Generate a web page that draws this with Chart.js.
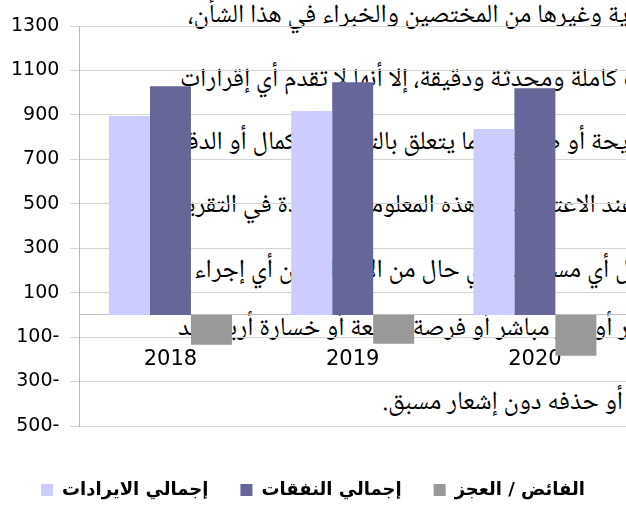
<!DOCTYPE html>
<html>
<head>
<meta charset="utf-8">
<script src="https://cdn.jsdelivr.net/npm/chart.js@4.4.1/dist/chart.umd.min.js"></script>
<style>
    html, body { margin: 0; padding: 0; background: #fff; }
    #wrap { position: relative; width: 626px; height: 505px; overflow: hidden; }
    #note {
        position: absolute; left: 0; top: 0; width: 626px; height: 505px; overflow: hidden;
        font-family: "Noto Naskh Arabic", "Noto Sans Arabic", "DejaVu Sans", serif;
        font-size: 26px; line-height: 1; color: #000;
    }
    #note span { position: absolute; white-space: nowrap; direction: rtl; }
    #chartBox { position: absolute; left: 0; top: 0; width: 626px; height: 505px; }
</style>
</head>
<body>
<div id="wrap">
    <div id="note"></div>
    <div id="chartBox"><canvas id="chart"></canvas></div>
</div>
<script>
// data
const years = ['2018', '2019', '2020'];
const revenue = [895, 917, 836];
const expenses = [1029, 1047, 1020];
const balance = [-134, -130, -184];
const seriesNames = ['إجمالي الايرادات', 'إجمالي النفقات', 'الفائض / العجز'];
const yMin = -500, yMax = 1300, yStep = 200;

// disclaimer text lying behind the chart
const noteLines = [
    'الاقتصادية وغيرها من المختصين والخبراء في هذا الشأن،',
    'بيانات كاملة ومحدثة ودقيقة، إلا أنها لا تقدم أي إقرارات',
    'صريحة أو ضمني فيما يتعلق بالتمام أو الكمال أو الدقة',
    'وعند الاعتماد على هذه المعلومات الواردة في التقرير',
    'ولا تتحمل أي مسؤولية بأي حال من الأحوال عن أي إجراء أو',
    'أو ضرر مباشر أو غير مباشر أو فرصة ضائعة أو خسارة أرباح قد',
    'أو حذفه دون إشعار مسبق.'
];
// [left, top] of each line; null left = flush with the right edge
const noteLayout = [[188, 3], [180, 67], [176, 130], [176, 193], [170, 258], [178, 316], [null, 390]];

const note = document.getElementById('note');
noteLines.forEach((t, i) => {
    const s = document.createElement('span');
    s.textContent = t;
    if (noteLayout[i][0] === null) s.style.right = '3px';
    else s.style.left = noteLayout[i][0] + 'px';
    s.style.top = noteLayout[i][1] + 'px';
    note.appendChild(s);
});

new Chart(document.getElementById('chart'), {
    type: 'bar',
    data: {
        labels: years,
        datasets: [
            { label: seriesNames[0], data: revenue, backgroundColor: '#CCCCFF' },
            { label: seriesNames[1], data: expenses, backgroundColor: '#666699' },
            { label: seriesNames[2], data: balance, backgroundColor: '#999999' }
        ]
    },
    options: {
        responsive: true,
        maintainAspectRatio: false,
        animation: false,
        layout: { padding: { left: 0, top: 26, right: 0, bottom: -4 } },
        datasets: { bar: { barPercentage: 1, categoryPercentage: 0.675, borderWidth: 0 } },
        plugins: {
            tooltip: { enabled: false },
            legend: {
                position: 'bottom',
                title: { display: true, text: ' ', font: { size: 10 }, padding: { top: 11, bottom: 0 } },
                labels: {
                    color: '#000',
                    font: { family: 'DejaVu Sans', size: 18, weight: 'bold' },
                    boxWidth: 12,
                    boxHeight: 12,
                    padding: 32
                }
            }
        },
        scales: {
            x: {
                position: { y: 0 },
                grid: { display: false, drawTicks: false },
                border: { display: true, color: '#c0c0c0', width: 1 },
                ticks: { color: '#000', font: { family: 'DejaVu Sans', size: 21 }, padding: 32 }
            },
            y: {
                min: yMin,
                max: yMax,
                grid: { color: '#d4d4d4', tickLength: 9 },
                border: { color: '#b8b8b8' },
                ticks: {
                    stepSize: yStep,
                    color: '#000',
                    font: { family: 'DejaVu Sans', size: 19 },
                    padding: 11,
                    callback: v => v < 0 ? Math.abs(v) + '-' : String(v)
                }
            }
        }
    }
});
</script>
</body>
</html>
